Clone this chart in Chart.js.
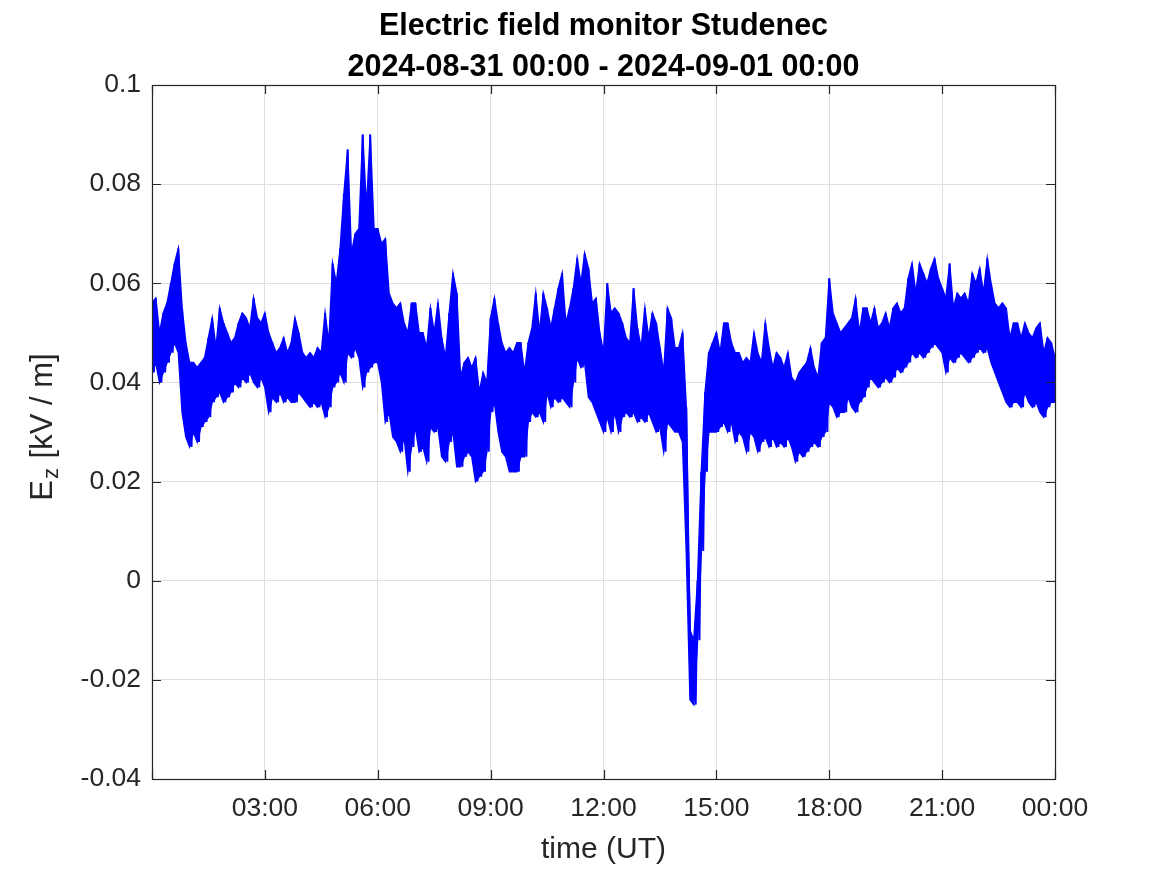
<!DOCTYPE html>
<html>
<head>
<meta charset="utf-8">
<script src="https://cdn.jsdelivr.net/npm/chart.js@4/dist/chart.umd.min.js"></script>
<style>
  html, body { margin: 0; padding: 0; background: #ffffff; }
  #wrap { width: 1167px; height: 875px; }
</style>
</head>
<body>
<div id="wrap"><canvas id="c" width="1167" height="875"></canvas></div>
<script>
// ---------------- data ----------------
const titleLines = ['Electric field monitor Studenec', '2024-08-31 00:00 - 2024-09-01 00:00'];
const xAxisLabel = 'time (UT)';
const yAxisLabelMain = 'E';
const yAxisLabelSub = 'z';
const yAxisLabelRest = ' [kV / m]';

const xTickHours = [0, 3, 6, 9, 12, 15, 18, 21, 24];
const xTickLabels = ['', '03:00', '06:00', '09:00', '12:00', '15:00', '18:00', '21:00', '00:00'];
const yTickValues = [-0.04, -0.02, 0, 0.02, 0.04, 0.06, 0.08, 0.1];
const yTickLabels = ['-0.04', '-0.02', '0', '0.02', '0.04', '0.06', '0.08', '0.1'];

const sampleStepHours = 0.1;   // one envelope sample every 6 minutes

// upper edge of the noisy Ez trace (kV/m), 10 samples per hour
const upperEnvelope = [
  0.056, 0.057, 0.050, 0.054, 0.056, 0.060, 0.064, 0.067, 0.055, 0.048, // 00h
  0.044, 0.044, 0.043, 0.044, 0.045, 0.049, 0.053, 0.047, 0.055, 0.052, // 01h
  0.050, 0.048, 0.049, 0.052, 0.054, 0.053, 0.051, 0.057, 0.053, 0.052, // 02h
  0.054, 0.050, 0.048, 0.046, 0.047, 0.049, 0.046, 0.048, 0.053, 0.050, // 03h
  0.046, 0.045, 0.046, 0.045, 0.047, 0.046, 0.054, 0.048, 0.064, 0.060, // 04h
  0.067, 0.078, 0.087, 0.066, 0.070, 0.071, 0.090, 0.075, 0.090, 0.071, // 05h
  0.071, 0.068, 0.069, 0.058, 0.056, 0.055, 0.056, 0.052, 0.050, 0.056, // 06h
  0.056, 0.050, 0.050, 0.047, 0.055, 0.050, 0.056, 0.049, 0.045, 0.054, // 07h
  0.062, 0.058, 0.041, 0.044, 0.045, 0.043, 0.045, 0.038, 0.042, 0.040, // 08h
  0.053, 0.057, 0.052, 0.048, 0.046, 0.047, 0.046, 0.048, 0.048, 0.042, // 09h
  0.048, 0.051, 0.058, 0.050, 0.058, 0.055, 0.051, 0.055, 0.059, 0.062, // 10h
  0.052, 0.055, 0.059, 0.065, 0.060, 0.066, 0.063, 0.056, 0.057, 0.050, // 11h
  0.046, 0.060, 0.054, 0.055, 0.054, 0.052, 0.049, 0.048, 0.059, 0.051, // 12h
  0.047, 0.055, 0.049, 0.054, 0.052, 0.047, 0.042, 0.055, 0.053, 0.047, // 13h
  0.047, 0.050, 0.035, -0.010, -0.012, 0.000, 0.022, 0.038, 0.046, 0.048, // 14h
  0.050, 0.046, 0.052, 0.052, 0.048, 0.046, 0.046, 0.044, 0.045, 0.044, // 15h
  0.050, 0.046, 0.044, 0.052, 0.047, 0.043, 0.046, 0.045, 0.043, 0.046, // 16h
  0.041, 0.040, 0.042, 0.043, 0.044, 0.047, 0.043, 0.041, 0.048, 0.049, // 17h
  0.061, 0.054, 0.052, 0.050, 0.051, 0.052, 0.053, 0.057, 0.050, 0.055, // 18h
  0.055, 0.052, 0.055, 0.051, 0.052, 0.054, 0.051, 0.055, 0.056, 0.054, // 19h
  0.055, 0.061, 0.064, 0.058, 0.064, 0.062, 0.060, 0.063, 0.065, 0.061, // 20h
  0.059, 0.057, 0.064, 0.055, 0.058, 0.057, 0.058, 0.056, 0.062, 0.060, // 21h
  0.063, 0.058, 0.065, 0.060, 0.056, 0.055, 0.056, 0.055, 0.049, 0.052, // 22h
  0.052, 0.049, 0.052, 0.050, 0.049, 0.051, 0.052, 0.046, 0.049, 0.048, // 23h
  0.045
];

// lower edge of the noisy Ez trace (kV/m), 10 samples per hour
const lowerEnvelope = [
  0.042, 0.044, 0.040, 0.042, 0.044, 0.046, 0.048, 0.046, 0.034, 0.029, // 00h
  0.027, 0.030, 0.028, 0.031, 0.032, 0.033, 0.036, 0.037, 0.038, 0.036, // 01h
  0.037, 0.038, 0.040, 0.039, 0.041, 0.040, 0.042, 0.040, 0.039, 0.041, // 02h
  0.039, 0.034, 0.037, 0.036, 0.038, 0.036, 0.037, 0.036, 0.036, 0.038, // 03h
  0.037, 0.036, 0.035, 0.036, 0.035, 0.036, 0.033, 0.035, 0.039, 0.040, // 04h
  0.042, 0.040, 0.046, 0.045, 0.047, 0.045, 0.039, 0.042, 0.043, 0.044, // 05h
  0.044, 0.040, 0.032, 0.034, 0.029, 0.028, 0.026, 0.029, 0.022, 0.027, // 06h
  0.031, 0.026, 0.027, 0.024, 0.031, 0.030, 0.031, 0.025, 0.024, 0.028, // 07h
  0.030, 0.023, 0.023, 0.025, 0.026, 0.025, 0.020, 0.021, 0.022, 0.026, // 08h
  0.034, 0.036, 0.030, 0.026, 0.025, 0.022, 0.022, 0.022, 0.025, 0.025, // 09h
  0.032, 0.034, 0.033, 0.034, 0.032, 0.038, 0.035, 0.037, 0.036, 0.037, // 10h
  0.036, 0.035, 0.040, 0.045, 0.043, 0.044, 0.037, 0.036, 0.034, 0.032, // 11h
  0.030, 0.033, 0.030, 0.034, 0.030, 0.033, 0.034, 0.033, 0.034, 0.032, // 12h
  0.033, 0.032, 0.034, 0.032, 0.030, 0.031, 0.026, 0.032, 0.031, 0.030, // 13h
  0.030, 0.028, 0.006, -0.024, -0.025, -0.012, 0.006, 0.022, 0.030, 0.030, // 14h
  0.030, 0.031, 0.032, 0.030, 0.032, 0.028, 0.030, 0.029, 0.026, 0.030, // 15h
  0.029, 0.026, 0.028, 0.029, 0.027, 0.029, 0.027, 0.028, 0.027, 0.029, // 16h
  0.027, 0.024, 0.026, 0.025, 0.026, 0.027, 0.028, 0.027, 0.029, 0.030, // 17h
  0.036, 0.035, 0.033, 0.034, 0.034, 0.037, 0.035, 0.034, 0.036, 0.037, // 18h
  0.039, 0.041, 0.040, 0.039, 0.040, 0.041, 0.040, 0.041, 0.043, 0.042, // 19h
  0.043, 0.044, 0.046, 0.045, 0.046, 0.045, 0.046, 0.047, 0.048, 0.047, // 20h
  0.046, 0.042, 0.045, 0.044, 0.045, 0.046, 0.045, 0.044, 0.045, 0.046, // 21h
  0.047, 0.046, 0.047, 0.044, 0.042, 0.040, 0.038, 0.036, 0.035, 0.036, // 22h
  0.036, 0.035, 0.038, 0.036, 0.035, 0.036, 0.034, 0.033, 0.035, 0.036, // 23h
  0.036
];

// ---------------- build the series ----------------
const lowerPoints = lowerEnvelope.map((v, i) => ({ x: i * sampleStepHours, y: v }));
const upperPoints = upperEnvelope.map((v, i) => ({ x: i * sampleStepHours, y: v }));
const tracePoints = [];
for (let i = 0; i < upperEnvelope.length; i++) {
  const t = i * sampleStepHours;
  tracePoints.push({ x: t, y: upperEnvelope[i] });
  tracePoints.push({ x: Math.min(24, t + sampleStepHours / 2), y: lowerEnvelope[i] });
}

// ---------------- styling ----------------
const FONT = "'Liberation Sans', Arial, Helvetica, sans-serif";
const AXIS_COLOR = '#262626';
const GRID_COLOR = '#dfdfdf';
const LINE_COLOR = '#0000ff';
const TICK_LEN = 9;

const frame = {
  id: 'matlabFrame',
  afterDraw(chart) {
    const ctx = chart.ctx;
    const a = chart.chartArea;
    const xs = chart.scales.x, ys = chart.scales.y;
    ctx.save();
    ctx.strokeStyle = AXIS_COLOR;
    ctx.lineWidth = 1.2;
    ctx.strokeRect(a.left + 0.5, a.top + 0.5, a.right - a.left, a.bottom - a.top);
    ctx.beginPath();
    xTickHours.forEach(h => {
      const px = Math.round(xs.getPixelForValue(h)) + 0.5;
      ctx.moveTo(px, a.bottom); ctx.lineTo(px, a.bottom - TICK_LEN);
      ctx.moveTo(px, a.top); ctx.lineTo(px, a.top + TICK_LEN);
    });
    yTickValues.forEach(v => {
      const py = Math.round(ys.getPixelForValue(v)) + 0.5;
      ctx.moveTo(a.left, py); ctx.lineTo(a.left + TICK_LEN, py);
      ctx.moveTo(a.right, py); ctx.lineTo(a.right - TICK_LEN, py);
    });
    ctx.stroke();

    const cx = (a.left + a.right) / 2;
    ctx.fillStyle = '#000000';
    ctx.textAlign = 'center';
    ctx.textBaseline = 'alphabetic';
    ctx.font = 'bold 30.5px ' + FONT;
    ctx.fillText(titleLines[0], cx, 35);
    ctx.fillText(titleLines[1], cx, 75.5);

    ctx.fillStyle = AXIS_COLOR;
    ctx.font = '30px ' + FONT;
    ctx.fillText(xAxisLabel, cx, 858);

    const cy = (a.top + a.bottom) / 2;
    ctx.translate(52, cy - 4);
    ctx.rotate(-Math.PI / 2);
    const mainFont = '31px ' + FONT, subFont = '22px ' + FONT;
    ctx.font = mainFont; const wE = ctx.measureText(yAxisLabelMain).width;
    const wR = ctx.measureText(yAxisLabelRest).width;
    ctx.font = subFont; const wZ = ctx.measureText(yAxisLabelSub).width;
    let x0 = -(wE + wZ + wR) / 2;
    ctx.textAlign = 'left';
    ctx.font = mainFont; ctx.fillText(yAxisLabelMain, x0, 0);
    ctx.font = subFont; ctx.fillText(yAxisLabelSub, x0 + wE + 1, 6);
    ctx.font = mainFont; ctx.fillText(yAxisLabelRest, x0 + wE + wZ + 2, 0);
    ctx.restore();
  }
};

const lineStyle = { pointRadius: 0, tension: 0, borderColor: LINE_COLOR, borderJoinStyle: 'miter' };

new Chart(document.getElementById('c'), {
  type: 'line',
  data: {
    datasets: [
      { ...lineStyle, data: lowerPoints, borderWidth: 1.5, fill: false },
      { ...lineStyle, data: upperPoints, borderWidth: 1.5, fill: '-1', backgroundColor: LINE_COLOR },
      { ...lineStyle, data: tracePoints, borderWidth: 2, fill: false }
    ]
  },
  options: {
    responsive: false,
    animation: false,
    devicePixelRatio: 1,
    layout: { padding: { top: 85, right: 112, left: 0, bottom: 0 } },
    plugins: { legend: { display: false }, title: { display: false }, tooltip: { enabled: false } },
    scales: {
      x: {
        type: 'linear',
        min: 0, max: 24,
        afterFit(s) { s.height = 96; },
        afterBuildTicks(s) { s.ticks = xTickHours.map(v => ({ value: v })); },
        grid: { color: GRID_COLOR, lineWidth: 1, drawTicks: false },
        border: { display: false },
        ticks: {
          autoSkip: false, maxRotation: 0, padding: 14,
          color: AXIS_COLOR, font: { family: FONT, size: 26.5 },
          callback: (v) => xTickLabels[xTickHours.indexOf(v)] ?? ''
        }
      },
      y: {
        type: 'linear',
        min: -0.04, max: 0.1,
        afterFit(s) { s.width = 152; },
        afterBuildTicks(s) { s.ticks = yTickValues.map(v => ({ value: v })); },
        grid: { color: GRID_COLOR, lineWidth: 1, drawTicks: false },
        border: { display: false },
        ticks: {
          autoSkip: false, padding: 11,
          color: AXIS_COLOR, font: { family: FONT, size: 26.5 },
          callback: (v) => yTickLabels[yTickValues.findIndex(t => Math.abs(t - v) < 1e-9)] ?? ''
        }
      }
    }
  },
  plugins: [frame]
});
</script>
</body>
</html>
